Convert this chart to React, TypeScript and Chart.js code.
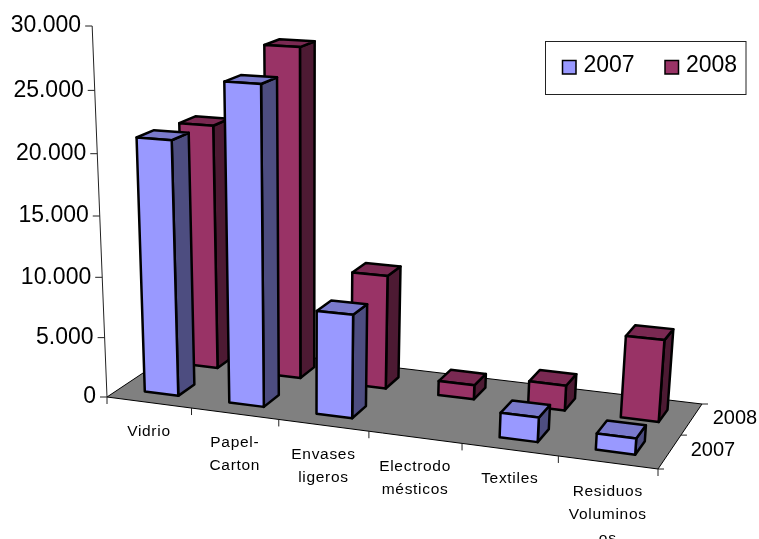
import { useEffect, useRef } from "react";
import { Chart, registerables, LinearScale } from "chart.js";

// Waste streams collected per year (tonnes).
const categories = [
  ["Vidrio"],
  ["Papel-", "Carton"],
  ["Envases", "ligeros"],
  ["Electrodo", "mésticos"],
  ["Textiles"],
  ["Residuos", "Voluminos", "os"],
];
const years = ["2007", "2008"];
const values2007 = [21000, 25900, 8400, null, 1950, 1265];
const values2008 = [20700, 27550, 9500, 1180, 2050, 6620];
const faceColors = [
  { front: "#9999FF", side: "#4D4D80", top: "#7A7ACC" },
  { front: "#993366", side: "#4D1A33", top: "#7A2952" },
];

const FONT = '"Liberation Sans", Arial, sans-serif';

// Floor quad of the 3D plot: front-left, front-right, back-right, back-left.
const FLOOR = [
  [107, 397],
  [658, 469],
  [702, 404],
  [188, 343],
];

// Projective map from the unit square onto the floor quad.
function makeFloorMap() {
  const [[x0, y0], [x1, y1], [x2, y2], [x3, y3]] = FLOOR;
  const dx1 = x1 - x2, dx2 = x3 - x2, sx = x0 - x1 + x2 - x3;
  const dy1 = y1 - y2, dy2 = y3 - y2, sy = y0 - y1 + y2 - y3;
  const den = dx1 * dy2 - dx2 * dy1;
  const g = (sx * dy2 - dx2 * sy) / den;
  const h = (dx1 * sy - sx * dy1) / den;
  const a = x1 - x0 + g * x1, b = x3 - x0 + h * x3;
  const d = y1 - y0 + g * y1, e = y3 - y0 + h * y3;
  return (u: number, v: number) => {
    const w = g * u + h * v + 1;
    return { x: (a * u + b * v + x0) / w, y: (d * u + e * v + y0) / w, k: 1 / w };
  };
}
const floorMap = makeFloorMap();
const VANISH_X = 307;
const VANISH_DIST = 5000;

// Floor point in category/row units, optionally raised by an axis height in pixels.
function project(cat: number, row: number, lift = 0) {
  const p = floorMap(cat / categories.length, row / years.length);
  const h = lift * p.k;
  return { x: p.x + ((p.x - VANISH_X) * h) / VANISH_DIST, y: p.y - h };
}

// Value axis whose pixel spacing widens slightly with height, as in a perspective view.
class PerspectiveScale extends LinearScale {
  static id = "perspective";
  static defaults = LinearScale.defaults;
  getPixelForValue(value: number) {
    const t = (value - (this as any).min) / ((this as any).max - (this as any).min);
    const c = -0.0474;
    const span = (this as any).height;
    return (this as any).bottom - (span * (1 + c) * t) / (1 + c * t);
  }
}

Chart.register(...registerables, PerspectiveScale);

function poly(ctx: CanvasRenderingContext2D, pts: { x: number; y: number }[], fill: string) {
  ctx.beginPath();
  pts.forEach((p, i) => (i ? ctx.lineTo(p.x, p.y) : ctx.moveTo(p.x, p.y)));
  ctx.closePath();
  ctx.fillStyle = fill;
  ctx.fill();
  ctx.stroke();
}

function line(ctx: CanvasRenderingContext2D, x1: number, y1: number, x2: number, y2: number) {
  ctx.beginPath();
  ctx.moveTo(x1, y1);
  ctx.lineTo(x2, y2);
  ctx.stroke();
}

const scene3d = {
  id: "scene3d",
  // Floor, axes and their labels sit underneath the bars.
  beforeDatasetsDraw(chart: any) {
    const { ctx } = chart;
    const yScale = chart.scales.y;
    const xScale = chart.scales.x;
    ctx.save();
    ctx.strokeStyle = "#000";
    ctx.lineWidth = 1;
    ctx.fillStyle = "#808080";
    ctx.beginPath();
    FLOOR.forEach(([x, y], i) => (i ? ctx.lineTo(x, y) : ctx.moveTo(x, y)));
    ctx.closePath();
    ctx.fill();
    ctx.stroke();

    // Value axis
    const top = project(0, 0, yScale.bottom - yScale.top);
    ctx.strokeStyle = "#222";
    line(ctx, FLOOR[0][0], FLOOR[0][1], top.x, top.y);
    ctx.fillStyle = "#000";
    ctx.font = `23px ${FONT}`;
    ctx.textAlign = "right";
    ctx.textBaseline = "middle";
    yScale.ticks.forEach((tick: any) => {
      const p = project(0, 0, yScale.bottom - yScale.getPixelForValue(tick.value));
      line(ctx, p.x - 7, p.y, p.x, p.y);
      ctx.fillText(tick.label, p.x - 11, p.y);
    });

    // Category axis along the front edge of the floor
    const unit = xScale.width / categories.length;
    ctx.font = `15.5px ${FONT}`;
    (ctx as any).letterSpacing = "0.7px";
    ctx.textAlign = "center";
    for (let i = 0; i <= categories.length; i++) {
      const p = project(i, 0);
      line(ctx, p.x, p.y, p.x, p.y + 7);
    }
    xScale.ticks.forEach((tick: any, i: number) => {
      const cat = (xScale.getPixelForTick(i) - xScale.left) / unit;
      const p = project(cat, 0);
      const lines: string[] = Array.isArray(tick.label) ? tick.label : [tick.label];
      lines.forEach((text, n) => ctx.fillText(text, p.x, p.y + 29 + n * 23.5));
    });
    (ctx as any).letterSpacing = "0px";

    // Depth axis along the right edge of the floor
    ctx.font = `20px ${FONT}`;
    ctx.textAlign = "left";
    for (let r = 0; r <= years.length; r++) {
      const p = project(categories.length, r);
      line(ctx, p.x, p.y, p.x + 6, p.y);
    }
    years.forEach((year, r) => {
      const p = project(categories.length, r + 0.5);
      ctx.fillText(year, p.x + 21, p.y - 1);
    });
    ctx.restore();
  },
  // Each bar element is rendered as a cuboid standing on the floor.
  beforeDatasetDraw(chart: any, args: any) {
    const { ctx } = chart;
    const xScale = chart.scales.x;
    const unit = xScale.width / categories.length;
    const row = args.index;
    const colors = faceColors[row];
    const depth = 0.2;
    ctx.save();
    ctx.strokeStyle = "#000";
    ctx.lineWidth = 2.5;
    ctx.lineJoin = "round";
    args.meta.data.forEach((bar: any, i: number) => {
      const value = args.meta._parsed[i].y;
      if (value === null || value === undefined || Number.isNaN(value)) return;
      const lift = bar.base - bar.y;
      const cx = (bar.x - xScale.left) / unit;
      const half = bar.width / unit / 2;
      const u0 = cx - half, u1 = cx + half;
      const v0 = row + 0.5 - depth, v1 = row + 0.5 + depth;
      const fb0 = project(u0, v0), fb1 = project(u1, v0), bb1 = project(u1, v1);
      const ft0 = project(u0, v0, lift), ft1 = project(u1, v0, lift);
      const bt0 = project(u0, v1, lift), bt1 = project(u1, v1, lift);
      poly(ctx, [fb1, bb1, bt1, ft1], colors.side);
      poly(ctx, [ft0, ft1, bt1, bt0], colors.top);
      poly(ctx, [fb0, fb1, ft1, ft0], colors.front);
    });
    ctx.restore();
    return false;
  },
  // Legend box in the upper right corner.
  afterDraw(chart: any) {
    const { ctx } = chart;
    ctx.save();
    ctx.fillStyle = "#fff";
    ctx.strokeStyle = "#222";
    ctx.lineWidth = 1;
    ctx.fillRect(545.5, 41.5, 200.5, 53);
    ctx.strokeRect(545.5, 41.5, 200.5, 53);
    ctx.font = `23px ${FONT}`;
    ctx.textAlign = "left";
    ctx.textBaseline = "middle";
    const swatches = [562.5, 665];
    chart.data.datasets.forEach((ds: any, i: number) => {
      ctx.fillStyle = faceColors[i].front;
      ctx.strokeStyle = "#000";
      ctx.lineWidth = 1.5;
      ctx.fillRect(swatches[i], 60.5, 13.5, 13.5);
      ctx.strokeRect(swatches[i], 60.5, 13.5, 13.5);
      ctx.fillStyle = "#000";
      ctx.fillText(ds.label, swatches[i] + 21, 66);
    });
    ctx.restore();
  },
};

export default function App() {
  const ref = useRef<HTMLCanvasElement>(null);
  useEffect(() => {
    const chart = new Chart(ref.current!, {
      type: "bar",
      data: {
        labels: categories,
        datasets: [
          { label: years[0], data: values2007 },
          { label: years[1], data: values2008 },
        ],
      } as any,
      options: {
        animation: false,
        responsive: false,
        layout: { padding: { top: 26, bottom: 142, left: 0, right: 101 } },
        datasets: { bar: { grouped: false, categoryPercentage: 1, barPercentage: 0.4 } },
        plugins: { legend: { display: false }, tooltip: { enabled: false } },
        scales: {
          x: {
            display: true,
            grid: { display: false },
            border: { display: false },
            ticks: { display: false, autoSkip: false },
            afterFit: (scale: any) => {
              scale.height = 0;
            },
          },
          y: {
            type: "perspective",
            min: 0,
            max: 30000,
            grid: { display: false },
            border: { display: false },
            ticks: {
              display: false,
              stepSize: 5000,
              callback: (v: number) => String(v).replace(/\B(?=(\d{3})+$)/g, "."),
            },
            afterFit: (scale: any) => {
              scale.width = 107;
            },
          },
        },
      } as any,
      plugins: [scene3d],
    });
    return () => chart.destroy();
  }, []);
  return (
    <div style={{ position: "absolute", left: 0, top: 0, width: 759, height: 539, overflow: "hidden", background: "#fff" }}>
      <canvas ref={ref} width={759} height={539} style={{ display: "block" }} />
    </div>
  );
}
